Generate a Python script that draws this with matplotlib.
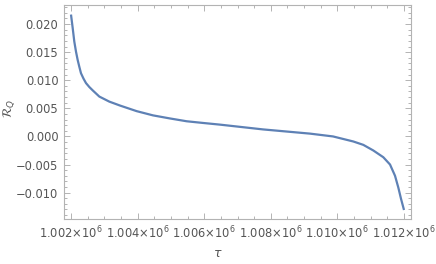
import numpy as np
import matplotlib
matplotlib.use("Agg")
import matplotlib.pyplot as plt
from matplotlib.ticker import MultipleLocator, FuncFormatter

# values
tau = [1002000, 1002051, 1002099, 1002150, 1002201, 1002250, 1002300,
       1002375, 1002450, 1002550, 1002652, 1002850, 1003150, 1003471,
       1003973, 1004462, 1004973, 1005474, 1005964, 1006475, 1007766,
       1009177, 1009868, 1010478, 1010778, 1011078, 1011378, 1011580,
       1011730, 1011829, 1011910, 1012000]
rq = [0.0217, 0.0193, 0.0169, 0.0151, 0.0136, 0.0124, 0.01125,
      0.0103, 0.0095, 0.0088, 0.0082, 0.0071, 0.0062, 0.0055,
      0.0045, 0.00375, 0.0032, 0.0027, 0.0024, 0.0021, 0.00125,
      0.0005, 0.0000, -0.0009, -0.0015, -0.0025, -0.0037, -0.0050,
      -0.0070, -0.0091, -0.0111, -0.0131]

xlim = (1.00179e6, 1.01221e6)
ylim = (-0.0147, 0.0234)

plt.rcParams['mathtext.fontset'] = 'dejavusans'
gray = '#b3b3b3'
tcol = '#555555'

fig = plt.figure(figsize=(4.36, 2.64), dpi=100)
ax = fig.add_axes([64/436, 45/264, 347/436, 214/264])
ax.plot(tau, rq, color='#5e81b5', lw=1.6, solid_capstyle='butt',
        solid_joinstyle='round')
ax.set_xlim(*xlim)
ax.set_ylim(*ylim)

ax.xaxis.set_major_locator(MultipleLocator(2000))
ax.xaxis.set_minor_locator(MultipleLocator(500))
ax.yaxis.set_major_locator(MultipleLocator(0.005))
ax.yaxis.set_minor_locator(MultipleLocator(0.001))

def xfmt(v, pos):
    return r'%.3f$\times$10$^{6}$' % (v / 1e6)

def yfmt(v, pos):
    s = '%.3f' % v
    if s == '-0.000':
        s = '0.000'
    return s.replace('-', '\u2212')

ax.xaxis.set_major_formatter(FuncFormatter(xfmt))
ax.yaxis.set_major_formatter(FuncFormatter(yfmt))

for sp in ax.spines.values():
    sp.set_color(gray)
    sp.set_linewidth(0.8)
ax.tick_params(which='both', direction='in', top=True, right=True,
               color=gray, labelcolor=tcol, labelsize=8.3, width=0.7)
ax.tick_params(which='major', length=4, pad=4)
ax.tick_params(which='minor', length=2)

ax.set_xlabel(r'$\tau$', color=tcol, fontsize=9)
ax.set_ylabel(r'$\mathcal{R}_Q$', color=tcol, fontsize=9)
ax.xaxis.set_label_coords(154/347, -28/214)
ax.yaxis.set_label_coords(-47/347, 111/214)

fig.savefig('out.png', dpi=100)
